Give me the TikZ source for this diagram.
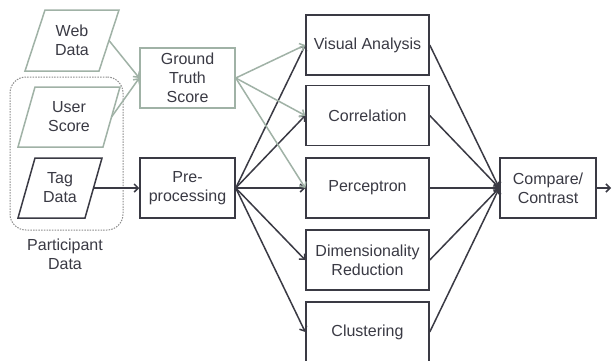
\documentclass[tikz,border=0pt]{standalone}
\usepackage{fontspec}
\setmainfont{Liberation Sans}
\usetikzlibrary{arrows.meta}
\definecolor{dk}{HTML}{3A3A44}
\definecolor{gg}{HTML}{A0B2A6}
\definecolor{dash}{HTML}{8C8C8C}
\begin{document}
\begin{tikzpicture}[x=1pt,y=-1pt,
  font=\fontsize{16}{19}\selectfont, text=dk,
  box/.style={draw=dk, line width=1.5pt, rectangle, minimum height=60pt, align=center, inner sep=0pt},
  gbox/.style={box, draw=gg},
  paraline/.style={line width=1.5pt, line join=miter},
  ptext/.style={align=center, inner sep=0pt},
  arr/.style={draw=dk, line width=1.5pt, -{Straight Barb[length=4pt,width=8pt]}},
  garr/.style={arr, draw=gg},
]
\useasboundingbox (0,0) rectangle (612,360);
\fill[white] (0,0) rectangle (612,360);

% participant group
\node[draw=dash, dash pattern=on 1.5pt off 1.2pt, line width=1pt, rounded corners=16pt, minimum width=113pt, minimum height=153pt] (group) at (66.5,153.5) {};
\node[align=center] (plabel) at (65,254) {Participant\\Data};

% parallelograms
\draw[paraline, draw=gg] (25,71) -- (99,71) -- (119,10) -- (45,10) -- cycle;
\node[ptext] (web) at (72,40.5) {Web\\Data};
\coordinate (webE) at (109,40.5);

\draw[paraline, draw=gg] (18,147) -- (103,147) -- (120,87) -- (35,87) -- cycle;
\node[ptext] (user) at (69,117) {User\\Score};
\coordinate (userE) at (111.5,117);

\draw[paraline, draw=dk] (18,218) -- (85,218) -- (102,158) -- (35,158) -- cycle;
\node[ptext] (tag) at (60,188) {Tag\\Data};
\coordinate (tagE) at (93.5,188);

\node[gbox, minimum width=95pt] (ground) at (187.5,78) {Ground\\Truth\\Score};
\node[box, minimum width=95pt] (pre) at (187.5,188) {Pre-\\processing};

\node[box, minimum width=123pt] (vis) at (367.5,45) {Visual Analysis};
\node[box, minimum width=123pt] (cor) at (367.5,115.5) {Correlation};
\node[box, minimum width=123pt] (per) at (367.5,188) {Perceptron};
\node[box, minimum width=123pt] (dim) at (367.5,260) {Dimensionality\\Reduction};
\node[box, minimum width=123pt] (clu) at (367.5,332) {Clustering};

\node[box, minimum width=96pt] (cmp) at (548,188) {Compare/\\Contrast};
\coordinate (out) at (611,188);

\draw[garr] (webE) -- (ground.west);
\draw[garr] (userE) -- (ground.west);
\draw[arr] (tagE) -- (pre.west);

\foreach \t in {vis,cor,per,dim,clu} {
  \draw[arr] (pre.east) -- (\t.west);
}
\foreach \t in {vis,cor,per} {
  \draw[garr] (ground.east) -- (\t.west);
}
\foreach \t in {vis,cor,per,dim,clu} {
  \draw[arr] (\t.east) -- (cmp.west);
}
\draw[arr] (cmp.east) -- (out);
\end{tikzpicture}
\end{document}
